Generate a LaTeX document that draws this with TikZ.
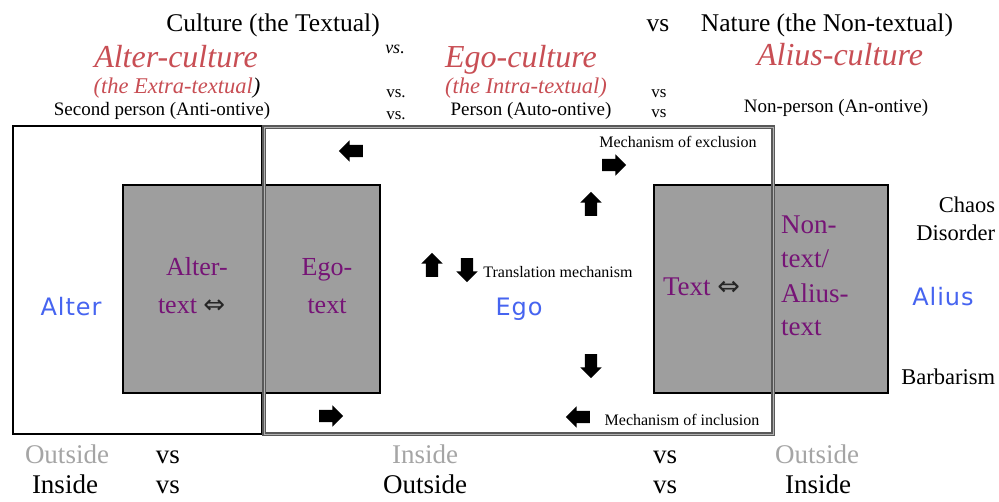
\documentclass[tikz,border=0pt]{standalone}
\usepackage{fontspec}
\setmainfont{Liberation Serif}
\newfontfamily\bluefont{DejaVu Sans}[LetterSpace=4]
\newfontfamily\symfont{DejaVu Sans}
\usetikzlibrary{shapes.arrows}
\definecolor{culred}{RGB}{200,78,84}
\definecolor{txtpurple}{RGB}{118,20,118}
\definecolor{egoblue}{RGB}{70,100,240}
\definecolor{boxgray}{RGB}{158,158,158}
\definecolor{paletext}{RGB}{165,165,165}
\newcommand{\fsz}[1]{\fontsize{#1}{#1}\selectfont}
\tikzset{
  lbl/.style={anchor=base, inner sep=0pt, outer sep=0pt},
  lblw/.style={anchor=base west, inner sep=0pt, outer sep=0pt},
  lble/.style={anchor=base east, inner sep=0pt, outer sep=0pt},
  headline/.style={lbl, font=\fsz{25.5}},
  culture/.style={lbl, font=\fsz{32}\itshape, text=culred},
  subculture/.style={lbl, font=\fsz{22.5}\itshape, text=culred},
  persontext/.style={lbl, font=\fsz{19}},
  smallvs/.style={lbl, font=\fsz{17}},
  purpletext/.style={lbl, font=\fsz{26}, text=txtpurple},
  bluetext/.style={lbl, font=\fsz{24}\bluefont, text=egoblue},
  sidetext/.style={lble, font=\fsz{22.5}},
  mechtext/.style={lbl, font=\fsz{16}},
  bottomtext/.style={lbl, font=\fsz{27}},
  graybox/.style={fill=boxgray, draw=black, line width=1.4pt},
  blockarrow/.style={single arrow, fill=black, draw=none, minimum height=24pt,
    minimum width=21pt, single arrow head extend=4.5pt, inner sep=6pt, anchor=center}
}
\begin{document}
\begin{tikzpicture}[x=1pt, y=-1pt]
\useasboundingbox (0,0) rectangle (999,501);
\fill[white] (0,0) rectangle (999,501);

% header texts
\node[headline] (culture) at (273,31) {Culture (the Textual)};
\node[headline] (vstop) at (658,31) {vs};
\node[headline] (nature) at (827,31) {Nature (the Non-textual)};

\node[culture] (altercult) at (176,67) {Alter-culture};
\node[lbl, font=\fsz{18}\itshape] (vsa) at (395,53) {vs.};
\node[culture] (egocult) at (521,67) {Ego-culture};
\node[culture] (aliuscult) at (840,65) {Alius-culture};

\node[subculture] (extra) at (177,93) {(the Extra-textual\textcolor{black}{)}};
\node[smallvs] (vsb) at (396,97) {vs.};
\node[subculture] (intra) at (526,93) {(the Intra-textual)};
\node[smallvs] (vsc) at (659,97) {vs};

\node[persontext] (second) at (162,115) {Second person (Anti-ontive)};
\node[smallvs] (vsd) at (396,119) {vs.};
\node[persontext] (person) at (531,115) {Person (Auto-ontive)};
\node[smallvs] (vse) at (659,117) {vs};
\node[persontext] (nonperson) at (836,112) {Non-person (An-ontive)};

% boxes
\draw[line width=2.8pt] (13,126) rectangle (262,434);
\draw[graybox] (123,185) rectangle (380,393);
\draw[graybox] (654,185) rectangle (888,393);
\draw[draw=black!65, double=black!30, double distance=0.9pt, line width=1.1pt]
  (264,127) rectangle (773,434);

% texts in boxes
\node[bluetext] (alter) at (71,315) {Alter};
\node[bluetext] (ego) at (519,315) {Ego};
\node[bluetext] (alius) at (943,305) {Alius};

\node[purpletext] (altertext1) at (197,275) {Alter-};
\node[lblw, font=\fsz{26}, text=txtpurple] (altertext2) at (158,313) {text \textcolor{black!85}{\symfont ⇔}};
\node[purpletext] (egotext1) at (327,275) {Ego-};
\node[purpletext] (egotext2) at (327,313) {text};

\node[lblw, font=\fsz{27}, text=txtpurple] (textr) at (663,295) {Text \textcolor{black!85}{\symfont ⇔}};
\node[lblw, font=\fsz{27}, text=txtpurple] (non1) at (781,233) {Non-};
\node[lblw, font=\fsz{27}, text=txtpurple] (non2) at (781,267) {text/};
\node[lblw, font=\fsz{27}, text=txtpurple] (non3) at (781,302) {Alius-};
\node[lblw, font=\fsz{27}, text=txtpurple] (non4) at (781,335) {text};

\node[sidetext] (chaos) at (995,212) {Chaos};
\node[sidetext] (disorder) at (995,240) {Disorder};
\node[sidetext] (barbarism) at (995,384) {Barbarism};

\node[mechtext] (mexcl) at (678,147) {Mechanism of exclusion};
\node[mechtext] (mtrans) at (558,277) {Translation mechanism};
\node[mechtext] (mincl) at (682,425) {Mechanism of inclusion};

% block arrows
\node[blockarrow, shape border rotate=180] (a1) at (354,151) {};
\node[blockarrow] (a2) at (611,165) {};
\node[blockarrow, shape border rotate=90] (a3) at (591,207) {};
\node[blockarrow, shape border rotate=90] (a4) at (432,268) {};
\node[blockarrow, shape border rotate=270] (a5) at (467,267) {};
\node[blockarrow, shape border rotate=270] (a6) at (591,363) {};
\node[blockarrow, shape border rotate=180] (a7) at (581,417) {};
\node[blockarrow] (a8) at (328,416) {};

% bottom rows
\node[bottomtext, text=paletext] (out1) at (67,463) {Outside};
\node[bottomtext] (vs1) at (168,463) {vs};
\node[bottomtext, text=paletext] (in1) at (425,463) {Inside};
\node[bottomtext] (vs2) at (665,463) {vs};
\node[bottomtext, text=paletext] (out2) at (817,463) {Outside};

\node[bottomtext] (in2) at (65,493) {Inside};
\node[bottomtext] (vs3) at (168,493) {vs};
\node[bottomtext] (out3) at (425,493) {Outside};
\node[bottomtext] (vs4) at (665,493) {vs};
\node[bottomtext] (in3) at (818,493) {Inside};
\end{tikzpicture}
\end{document}
